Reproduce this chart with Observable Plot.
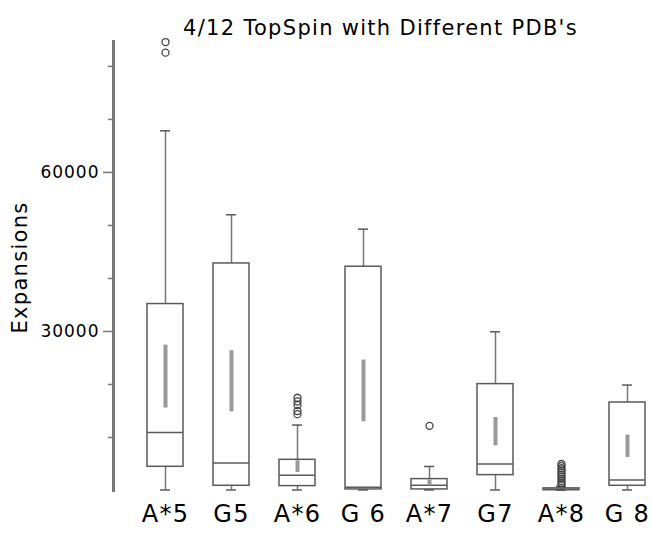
<!DOCTYPE html>
<html>
<head>
<meta charset="utf-8">
<script src="https://cdn.jsdelivr.net/npm/d3@7"></script>
<script src="https://cdn.jsdelivr.net/npm/@observablehq/plot@0.6"></script>
<style>
  body { margin: 0; background: white; }
  g[aria-label="y-axis tick label"] text { letter-spacing: 1px; }
  g[aria-label="text"] text { letter-spacing: 1.3px; }
</style>
</head>
<body>
<div id="chart"></div>
<script>
const categories = ["A*5", "G5", "A*6", "G 6", "A*7", "G7", "A*8", "G 8"];
const lowWhisker = [100, 100, 100, 100, 100, 100, 50, 100];
const q1 = [4470, 890, 830, 200, 200, 2900, 80, 890];
const median = [10940, 5170, 2900, 600, 1000, 4980, 200, 1960];
const q3 = [35170, 42830, 5790, 42210, 2150, 20070, 400, 16600];
const highWhisker = [67850, 52020, 12340, 49300, 4530, 29940, 800, 19890];
const ciLow = [15550, 14850, 3400, 12960, 900, 8430, 200, 6230];
const ciHigh = [27430, 26360, 5600, 24600, 2000, 13770, 600, 10450];
const outlierCats = ["A*5", "A*5", "A*6", "A*6", "A*6", "A*6", "A*6", "A*7",
  "A*8", "A*8", "A*8", "A*8", "A*8", "A*8", "A*8", "A*8", "A*8", "A*8", "A*8"];
const outlierValues = [84600, 82600, 17500, 16800, 16100, 15000, 14400, 12200,
  5000, 4600, 4200, 3800, 3400, 3000, 2600, 2200, 1800, 1400, 1100];
const majorTicks = [30000, 60000];
const minorTicks = [10000, 20000, 40000, 50000, 70000, 80000];
const title = "4/12 TopSpin with Different PDB's";
const yLabel = "Expansions";

const boxes = categories.map((c, i) => ({
  cat: c, lo: lowWhisker[i], q1: q1[i], med: median[i], q3: q3[i],
  hi: highWhisker[i], ciLo: ciLow[i], ciHi: ciHigh[i]
}));
const outliers = outlierCats.map((c, i) => ({cat: c, value: outlierValues[i]}));

const stroke = "#5a5a5a";
const chart = Plot.plot({
  width: 651,
  height: 534,
  marginLeft: 113,
  marginRight: 0,
  marginTop: 41,
  marginBottom: 44,
  style: {fontFamily: "DejaVu Sans", background: "white", color: "black"},
  x: {domain: categories, range: [129.8, 661], paddingInner: 0.46, paddingOuter: 0.23, axis: null},
  y: {domain: [0, 84700], label: null},
  marks: [
    Plot.frame({anchor: "left", stroke: "#777", strokeWidth: 3}),
    Plot.axisY({ticks: majorTicks, tickSize: 10, tickPadding: 4, fontSize: 17, stroke: "#777", strokeWidth: 1.5, tickFormat: d => String(d), label: null}),
    Plot.axisY({ticks: minorTicks, tickSize: 5, stroke: "#777", strokeWidth: 1.5, tickFormat: () => "", label: null}),
    Plot.ruleX(boxes, {x: "cat", y1: "lo", y2: "q1", stroke: "#777", strokeWidth: 1.5}),
    Plot.ruleX(boxes, {x: "cat", y1: "q3", y2: "hi", stroke: "#777", strokeWidth: 1.5}),
    Plot.tickY(boxes, {x: "cat", y: "lo", stroke: stroke, strokeWidth: 1.5, insetLeft: 13, insetRight: 13}),
    Plot.tickY(boxes, {x: "cat", y: "hi", stroke: stroke, strokeWidth: 1.5, insetLeft: 13, insetRight: 13}),
    Plot.barY(boxes, {x: "cat", y1: "q1", y2: "q3", fill: "white", stroke: stroke, strokeWidth: 1.5}),
    Plot.tickY(boxes, {x: "cat", y: "med", stroke: stroke, strokeWidth: 1.5}),
    Plot.ruleX(boxes, {x: "cat", y1: "ciLo", y2: "ciHi", stroke: "#999", strokeWidth: 4}),
    Plot.dot(outliers, {x: "cat", y: "value", r: 3.5, stroke: "#444", strokeWidth: 1.3, fill: "none"}),
    Plot.text(categories, {x: d => d, frameAnchor: "bottom", dy: 31, fontSize: 24, fill: "black"}),
    Plot.text([yLabel], {frameAnchor: "left", textAnchor: "middle", dx: -93, dy: 1.5, rotate: -90, fontSize: 21, fill: "black"}),
    Plot.text([title], {frameAnchor: "top", textAnchor: "middle", dx: -2, dy: -21, fontSize: 21, fill: "black"})
  ]
});
document.getElementById("chart").append(chart);
</script>
</body>
</html>
